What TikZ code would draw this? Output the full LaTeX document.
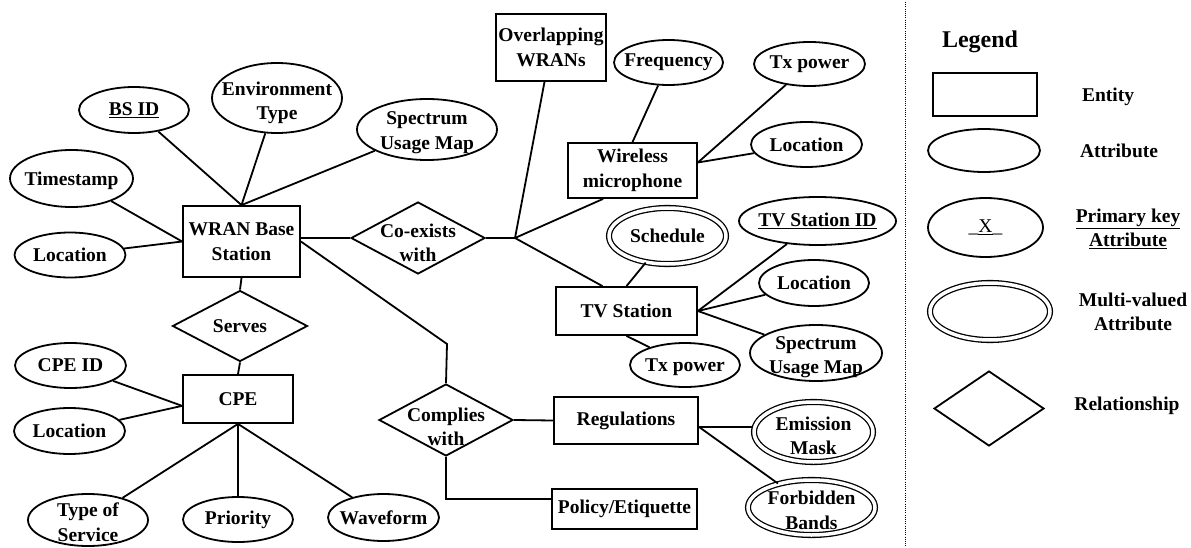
\documentclass[tikz,border=0pt]{standalone}
\usepackage{fontspec}
\setmainfont{Liberation Serif}
\usetikzlibrary{shapes.geometric}
\begin{document}
\begin{tikzpicture}[x=1pt,y=-1pt,line width=1.8pt,
  every node/.style={font=\fontsize{19.5}{24.5}\selectfont\bfseries,align=center},
  ent/.style 2 args={draw,rectangle,inner sep=0pt,minimum width=#1pt,minimum height=#2pt},
  attr/.style 2 args={draw,ellipse,inner sep=0pt,minimum width=#1pt,minimum height=#2pt},
  multi/.style 2 args={attr={#1}{#2},double,double distance=3.5pt,line width=1.3pt},
  rel/.style 2 args={draw,diamond,inner sep=0pt,minimum width=#1pt,minimum height=#2pt},
  tx/.style={label={[inner sep=0pt]center:#1}},
  txd/.style 2 args={label={[inner sep=0pt,yshift=-#1pt]center:#2}},
  plain/.style={inner sep=0pt}
]
\useasboundingbox (0,0) rectangle (1191,548);

% ---------- entities ----------
\node[ent={117}{71}] (wran) at (241.5,241.5) {WRAN Base\\Station};
\node[ent={110}{67}] (overlap) at (551,47.5) {Overlapping\\WRANs};
\node[ent={129}{55}] (mic) at (632.5,170.5) {Wireless\\microphone};
\node[ent={141}{48}] (tvst) at (626.5,311) {TV Station};
\node[ent={110}{48}] (cpe) at (238,399) {CPE};
\node[ent={144}{47}] (regs) at (626,420.5) {Regulations};
\node[ent={145}{40}] (policy) at (624.5,509) {Policy/Etiquette};

% ---------- relationships ----------
\node[rel={134}{72},txd={5}{Co-exists\\with}] (coexists) at (418,238) {};
\node[rel={135}{71},tx={Serves}] (serves) at (240,326) {};
\node[rel={134}{72},txd={7}{Complies\\with}] (complies) at (446,420) {};

% ---------- attributes ----------
\node[attr={110}{46},tx={\underline{BS ID}}] (bsid) at (134,110) {};
\node[attr={130}{70},txd={5}{Environment\\Type}] (env) at (277,98) {};
\node[attr={140}{61},txd={3}{Spectrum\\Usage Map}] (spec1) at (427,129.5) {};
\node[attr={123}{57},txd={2}{Timestamp}] (tstamp) at (71.5,178.5) {};
\node[attr={111}{45},tx={Location}] (loc1) at (70,255) {};
\node[attr={109}{45},tx={Frequency}] (freq) at (668.5,62.5) {};
\node[attr={111}{44},tx={Tx power}] (txp1) at (809.5,64) {};
\node[attr={111}{45},tx={Location}] (loc2) at (806.5,144.5) {};
\node[multi={117}{56},tx={Schedule}] (sched) at (667.5,236) {};
\node[attr={157}{48},tx={\underline{TV Station ID}}] (tvid) at (817.5,221) {};
\node[attr={110}{46},tx={Location}] (loc3) at (814,283) {};
\node[attr={132}{56},txd={4}{Spectrum\\Usage Map}] (spec2) at (816,353) {};
\node[attr={110}{44},txd={2}{Tx power}] (txp2) at (685,365) {};
\node[multi={119}{60},txd={4}{Emission\\Mask}] (emis) at (813.5,432) {};
\node[multi={127}{55},txd={3}{Forbidden\\Bands}] (forb) at (811.5,507.5) {};
\node[attr={111}{45},tx={CPE ID}] (cpeid) at (70.5,365.5) {};
\node[attr={111}{46},tx={Location}] (loc4) at (69.5,431) {};
\node[attr={120}{52},txd={2}{Type of\\Service}] (tos) at (88,520) {};
\node[attr={110}{45},tx={Priority}] (prio) at (238,519.5) {};
\node[attr={111}{47},tx={Waveform}] (wave) at (383.5,517.5) {};

% ---------- connectors ----------
\coordinate (junc) at (515,238);
\coordinate (bend) at (447,344);

\draw (bsid) -- (wran.north);
\draw (env) -- (wran.north);
\draw (spec1) -- (wran.north);
\draw (tstamp) -- (wran.west);
\draw (loc1) -- (wran.west);
\draw (coexists.west -| wran.east) -- (coexists.west);
\draw (wran.east) -- (bend) -- (complies.north);
\draw (wran.south) -- (serves.north);
\draw (serves.south) -- (cpe.north);

\draw (coexists.east) -- (junc);
\draw (junc) -- (overlap);
\draw (junc) -- (mic.-136);
\draw (junc) -- (tvst.134);

\draw (freq) -- (mic.north);
\draw (txp1) -- (mic.7);
\draw (loc2) -- (mic.7);

\draw (sched) -- (tvst.north);
\draw (tvid) -- (tvst.east);
\draw (loc3) -- (tvst.east);
\draw (spec2) -- (tvst.east);
\draw (txp2) -- (tvst.south);

\draw (complies.east) -- (regs.west);
\draw (complies.south) |- (policy.172);
\draw (regs.-5) -- (regs.-5 -| emis.west);
\draw (regs.-5) -- (forb);

\draw (cpeid) -- (cpe.187);
\draw (loc4) -- (cpe.187);
\draw (tos) -- (cpe.south);
\draw (prio) -- (cpe.south);
\draw (wave) -- (cpe.south);

% ---------- separator ----------
\draw[line width=0.9pt,dash pattern=on 0.9pt off 1.3pt] (905,2) -- (905,546);

% ---------- legend ----------
\node[plain,font=\fontsize{24}{28}\selectfont\bfseries] (lgtitle) at (980,42) {Legend};
\node[ent={104}{43}] (lgent) at (985,94.5) {};
\node[plain] (lgentt) at (1108,97) {Entity};
\node[attr={112}{43}] (lgattr) at (984,150.5) {};
\node[plain] (lgattrt) at (1119,151) {Attribute};
\node[attr={115}{59},tx={\mdseries\_\underline{X}\_}] (lgpk) at (985.5,227.5) {};
\node[plain] (lgpkt) at (1128,229) {\underline{Primary key}\\\underline{Attribute}};
\node[multi={120}{57}] (lgmv) at (990,311.5) {};
\node[plain] (lgmvt) at (1133,312) {Multi-valued\\Attribute};
\node[rel={110}{75}] (lgrel) at (989,408.5) {};
\node[plain] (lgrelt) at (1127,406) {Relationship};
\end{tikzpicture}
\end{document}
